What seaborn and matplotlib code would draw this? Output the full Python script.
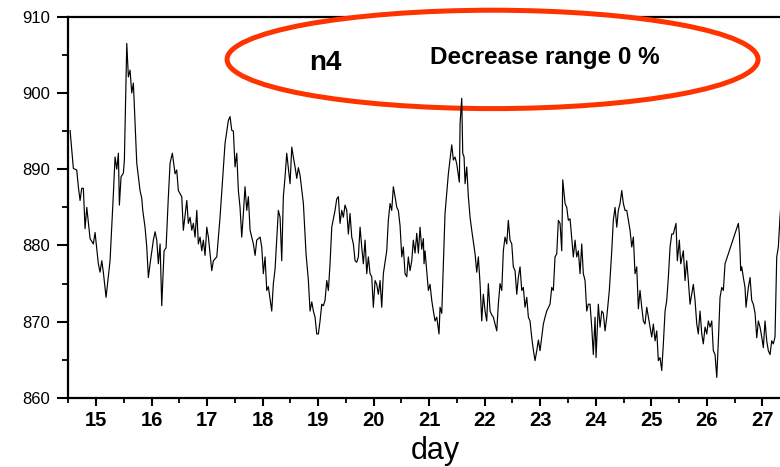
import matplotlib
matplotlib.use("Agg")
import matplotlib.pyplot as plt
import seaborn as sns
import pandas as pd
from matplotlib.patches import Ellipse
from matplotlib.ticker import MultipleLocator

# ---- data (day, level) ----
day_a = [14.532, 14.591, 14.652, 14.681, 14.712, 14.742, 14.771, 14.802, 14.833, 14.892,
         14.951, 14.982, 15.041, 15.072, 15.103, 15.131, 15.180, 15.252, 15.312, 15.342,
         15.373, 15.402, 15.420, 15.450, 15.492, 15.510, 15.553, 15.582, 15.612, 15.643,
         15.672, 15.733, 15.792, 15.823, 15.841, 15.882, 15.913, 15.942, 15.973, 16.032,
         16.063, 16.093, 16.122, 16.153, 16.183, 16.225, 16.261, 16.302, 16.333, 16.374,
         16.423, 16.453, 16.482, 16.543, 16.572, 16.634, 16.662, 16.693, 16.724, 16.752,
         16.783, 16.814, 16.842, 16.873, 16.904, 16.932, 16.963, 16.994, 17.023, 17.084,
         17.113, 17.174, 17.233, 17.293, 17.323, 17.383, 17.413, 17.444, 17.473, 17.503,
         17.534, 17.563, 17.593, 17.624, 17.653, 17.683, 17.714, 17.743, 17.774, 17.833,
         17.864, 17.894, 17.954, 17.984, 18.013, 18.044, 18.074, 18.103, 18.164, 18.193,
         18.224, 18.254, 18.283, 18.314, 18.344, 18.373, 18.404, 18.434, 18.494, 18.525,
         18.553, 18.584, 18.615, 18.643, 18.674, 18.734, 18.782, 18.824, 18.854, 18.885,
         18.914, 18.944, 18.975, 19.004, 19.034, 19.065, 19.094, 19.124, 19.155, 19.184,
         19.214, 19.245, 19.274, 19.304, 19.335, 19.364, 19.394, 19.425, 19.454, 19.484,
         19.515, 19.544, 19.574, 19.605, 19.634, 19.665, 19.695, 19.724, 19.755, 19.785,
         19.814, 19.845, 19.875, 19.904, 19.935, 19.965, 19.994, 20.025, 20.055, 20.084,
         20.115, 20.145, 20.174, 20.235, 20.264, 20.295, 20.325, 20.354, 20.385, 20.416,
         20.444, 20.475, 20.506, 20.534, 20.565, 20.596, 20.624, 20.655, 20.686, 20.714,
         20.745, 20.776, 20.805, 20.835, 20.866, 20.895, 20.907, 20.925, 20.985]
level_a = [895.1, 890.1, 889.9, 887.7, 885.9, 887.5, 887.5, 882.2, 885.0, 880.9,
           880.2, 881.7, 877.6, 876.5, 878.0, 876.5, 873.2, 878.0, 886.8, 891.6,
           890.0, 892.1, 885.3, 889.0, 889.5, 891.2, 906.5, 902.1, 903.0, 900.0,
           901.3, 890.8, 887.2, 886.2, 884.6, 882.4, 879.8, 875.8, 877.6, 880.7,
           881.8, 880.7, 877.6, 880.2, 872.1, 879.3, 879.7, 886.4, 890.8, 892.1,
           889.4, 889.9, 887.2, 886.4, 882.0, 885.9, 882.9, 883.7, 882.0, 882.9,
           881.1, 884.6, 880.2, 881.1, 879.3, 880.7, 878.7, 882.4, 881.1, 876.7,
           878.0, 878.5, 883.7, 890.3, 893.4, 896.4, 896.9, 895.1, 895.0, 890.3,
           892.1, 887.2, 885.0, 881.1, 884.2, 887.7, 884.6, 886.4, 882.0, 880.2,
           878.7, 880.7, 881.1, 879.8, 876.3, 878.5, 874.1, 874.6, 871.4, 875.0,
           876.9, 880.7, 884.6, 883.7, 878.0, 886.4, 889.0, 892.1, 888.1, 892.9,
           891.6, 890.3, 888.8, 890.2, 889.2, 885.5, 878.9, 875.4, 871.4, 872.6,
           871.4, 870.6, 868.4, 868.4, 870.1, 872.3, 872.1, 872.8, 875.4, 874.1,
           877.6, 882.4, 883.5, 884.6, 886.1, 886.4, 882.9, 884.6, 883.7, 885.3,
           884.6, 881.5, 884.2, 881.1, 880.2, 878.0, 877.8, 878.5, 882.4, 879.8,
           877.6, 880.7, 876.3, 878.5, 876.3, 875.9, 871.9, 875.4, 874.9, 873.6,
           875.4, 871.9, 876.3, 879.3, 883.3, 885.5, 884.6, 887.7, 886.4, 885.0,
           884.6, 882.6, 878.5, 879.8, 876.3, 875.9, 878.5, 876.7, 878.0, 880.7,
           879.0, 881.6, 879.0, 882.4, 879.5, 880.9, 877.6, 879.3, 874.1]

day_b = [21.015, 21.046, 21.075, 21.105, 21.136, 21.177, 21.195, 21.226, 21.285, 21.345,
         21.406, 21.435, 21.465, 21.496, 21.543, 21.556, 21.586, 21.604, 21.628, 21.646,
         21.676, 21.705, 21.736, 21.766, 21.826, 21.856, 21.885, 21.916, 21.946, 21.975,
         22.006, 22.036, 22.065, 22.096, 22.126, 22.155, 22.217, 22.245, 22.276, 22.307,
         22.335, 22.366, 22.397, 22.425, 22.456, 22.487, 22.515, 22.546, 22.577, 22.605,
         22.636, 22.667, 22.695, 22.726, 22.757, 22.786, 22.816, 22.847, 22.876, 22.906,
         22.937, 22.966, 22.996, 23.027, 23.056, 23.086, 23.117, 23.176, 23.207, 23.236,
         23.266, 23.297, 23.326, 23.357, 23.387, 23.405, 23.447, 23.477, 23.506, 23.537,
         23.567, 23.596, 23.627, 23.657, 23.686, 23.717, 23.747, 23.776, 23.807, 23.837,
         23.866, 23.897, 23.927, 23.956, 23.987, 24.005, 24.046, 24.077, 24.108, 24.136,
         24.167, 24.198, 24.244, 24.288, 24.316, 24.347, 24.378, 24.406, 24.437, 24.468,
         24.497, 24.527, 24.558, 24.587, 24.617, 24.648, 24.677, 24.707, 24.738, 24.767,
         24.797, 24.828, 24.857, 24.887, 24.918, 24.977, 25.008, 25.037, 25.068, 25.098,
         25.127, 25.157, 25.188, 25.217, 25.248, 25.278, 25.307, 25.338, 25.368, 25.397,
         25.445, 25.469, 25.505, 25.530, 25.577, 25.608, 25.638, 25.667, 25.698, 25.728,
         25.757, 25.788, 25.819, 25.847, 25.878, 25.909, 25.937, 25.968, 25.999, 26.027,
         26.058, 26.089, 26.117, 26.148, 26.179, 26.208, 26.238, 26.269, 26.298, 26.328,
         26.568, 26.586, 26.611, 26.629, 26.658, 26.688, 26.706, 26.748, 26.779, 26.809,
         26.838, 26.869, 26.899, 26.928, 26.958, 26.989, 27.018, 27.048, 27.079, 27.108,
         27.139, 27.169, 27.198, 27.228, 27.259, 27.288, 27.318, 27.340]
level_b = [874.9, 872.8, 871.4, 870.1, 870.6, 868.4, 871.9, 871.1, 884.2, 889.4,
           893.2, 891.2, 891.6, 890.7, 888.3, 896.0, 899.3, 892.1, 891.6, 888.1,
           890.3, 886.4, 883.7, 882.0, 878.9, 876.5, 878.5, 875.0, 870.1, 873.6,
           871.4, 870.1, 875.0, 871.4, 870.9, 870.6, 868.8, 872.3, 875.0, 874.1,
           879.3, 881.1, 880.2, 883.3, 880.7, 880.2, 877.2, 876.7, 873.6, 875.8,
           877.2, 874.1, 874.5, 871.9, 873.2, 870.6, 870.1, 867.9, 866.3, 864.9,
           866.2, 867.6, 866.2, 868.0, 869.7, 870.6, 871.4, 872.3, 874.5, 874.1,
           878.5, 878.9, 883.3, 882.9, 879.3, 888.6, 885.5, 885.0, 883.3, 883.5,
           880.9, 878.5, 880.7, 878.5, 879.3, 876.3, 880.2, 876.3, 875.4, 871.4,
           872.3, 872.3, 869.3, 865.7, 870.6, 865.3, 872.3, 869.3, 871.4, 871.1,
           868.8, 870.6, 874.1, 879.3, 883.3, 885.0, 882.4, 884.6, 885.5, 887.2,
           885.5, 884.6, 884.6, 883.3, 882.0, 879.8, 881.1, 876.3, 877.2, 871.7,
           874.1, 871.9, 870.1, 869.7, 871.9, 869.3, 868.0, 869.7, 867.5, 868.8,
           864.9, 865.3, 863.6, 867.1, 871.4, 872.8, 875.8, 879.8, 881.5, 881.5,
           882.9, 878.0, 880.7, 877.6, 879.3, 875.4, 878.0, 875.4, 872.3, 873.6,
           874.9, 872.8, 869.7, 868.4, 871.4, 868.4, 867.1, 869.3, 868.4, 870.1,
           869.3, 870.1, 866.2, 865.7, 862.7, 867.5, 873.2, 874.5, 874.1, 877.6,
           882.9, 881.5, 876.7, 877.2, 875.8, 874.5, 871.9, 874.5, 875.8, 872.8,
           872.3, 871.1, 867.9, 870.1, 869.3, 868.0, 866.6, 870.1, 867.5, 866.2,
           865.7, 867.5, 867.1, 868.0, 878.5, 879.8, 883.7, 886.0]

x_ticks = [15, 16, 17, 18, 19, 20, 21, 22, 23, 24, 25, 26, 27]
y_ticks = [860, 870, 880, 890, 900, 910]
x_label = "day"
tag_text = "n4"
note_text = "Decrease range 0 %"

# ---- figure ----
sns.set_style("ticks")
plt.rcParams["font.family"] = ["Liberation Sans", "DejaVu Sans"]
plt.rcParams["text.color"] = "black"
plt.rcParams["axes.labelcolor"] = "black"
plt.rcParams["xtick.color"] = "black"
plt.rcParams["ytick.color"] = "black"

W, H = 780, 467
fig = plt.figure(figsize=(W / 100, H / 100), dpi=100)
ax_l, ax_r, ax_t, ax_b = 68.3, 780.0, 16.7, 398.0
ax = fig.add_axes([ax_l / W, 1 - ax_b / H, (ax_r - ax_l) / W, (ax_b - ax_t) / H])

df = pd.DataFrame({"day": day_a + day_b, "level": level_a + level_b})
sns.lineplot(data=df, x="day", y="level", color="black", linewidth=0.85,
             estimator=None, sort=False, ax=ax, zorder=3)

ax.set_xlim(14.5, 27.318)
ax.set_ylim(860, 910)
ax.set_xticks(x_ticks)
ax.set_xticklabels([str(t) for t in x_ticks], fontweight="bold")
ax.set_yticks(y_ticks)
ax.set_yticklabels([str(t) for t in y_ticks])
ax.xaxis.set_minor_locator(MultipleLocator(0.5))
ax.yaxis.set_minor_locator(MultipleLocator(5))

for side in ["left", "bottom", "top"]:
    ax.spines[side].set_visible(True)
    ax.spines[side].set_linewidth(1.6)
    ax.spines[side].set_color("black")
ax.spines["right"].set_visible(False)

ax.tick_params(axis="x", which="major", direction="out", length=6, width=1.5,
               labelsize=14.5, pad=3, colors="black", labelcolor="black", top=False)
ax.tick_params(axis="x", which="minor", direction="out", length=3.6, width=1.3,
               colors="black", top=False)
ax.tick_params(axis="y", which="major", direction="out", length=8, width=1.5,
               labelsize=12, pad=5, colors="black", labelcolor="black", right=False)
ax.tick_params(axis="y", which="minor", direction="out", length=4, width=1.3,
               colors="black", right=False)

ax.set_ylabel("")
ax.set_xlabel(x_label, fontsize=22, color="black")
ax.xaxis.label.set_va("baseline")
ax.xaxis.set_label_coords((435 - ax_l) / (ax_r - ax_l), (ax_b - 459) / (ax_b - ax_t))

ell = Ellipse((22.141, 904.4), width=9.563, height=12.9, transform=ax.transData,
              facecolor="white", edgecolor="#FF3300", linewidth=3.6,
              clip_on=False, zorder=2.6)
ax.add_patch(ell)

fig.text(325 / W, 1 - 70 / H, tag_text, fontsize=20, fontweight="bold",
         ha="center", va="baseline", color="black")
fig.text(544.5 / W, 1 - 64 / H, note_text, fontsize=17.5, fontweight="bold",
         ha="center", va="baseline", color="black")

fig.savefig("out.png", dpi=100)
